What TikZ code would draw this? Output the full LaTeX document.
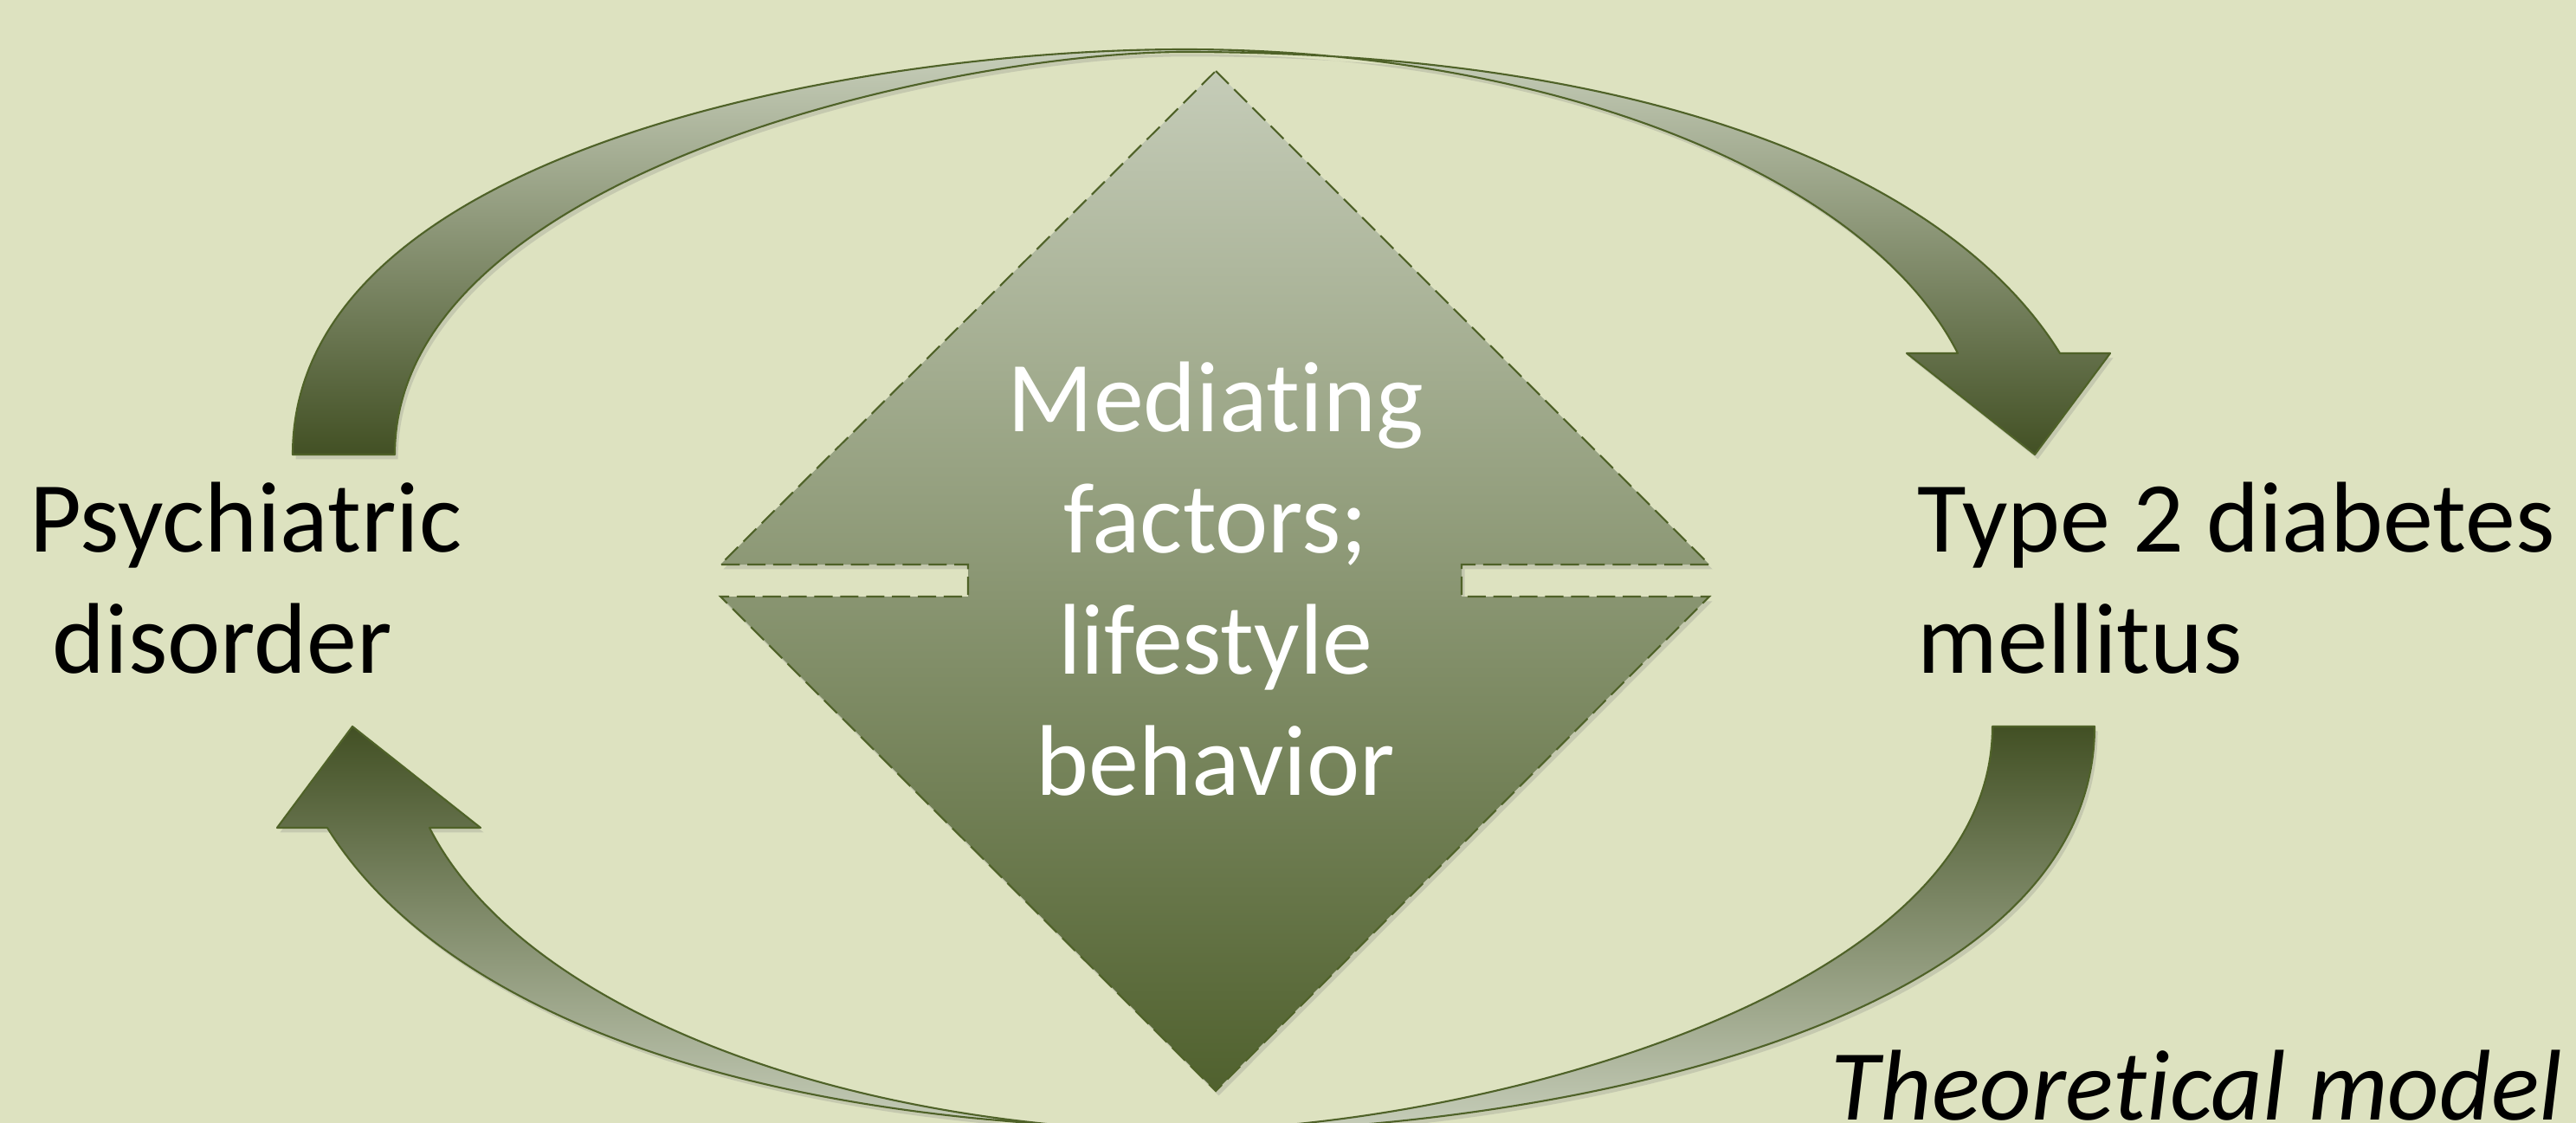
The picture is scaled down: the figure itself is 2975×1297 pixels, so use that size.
\documentclass[tikz,border=0pt]{standalone}
\usepackage{fontspec}
\setmainfont{Carlito}[Ligatures=NoCommon]
\usepackage{color}
\definecolor{mybg}{RGB}{221,226,192}
\definecolor{myolive}{RGB}{79,98,40}
\definecolor{mydark}{RGB}{66,80,36}
\definecolor{mylight}{RGB}{199,206,186}
\definecolor{mytop}{RGB}{197,204,184}
\definecolor{mybottom}{RGB}{80,97,46}
\usetikzlibrary{shadows,positioning}
\tikzstyle{bandarrow}=[draw=myolive,line width=0.6pt,line join=round,drop shadow={opacity=0.25,shadow xshift=1pt,shadow yshift=-1.5pt}]
\tikzstyle{mediator}=[draw=myolive,line width=0.6pt,dash pattern=on 6pt off 2.5pt,drop shadow={opacity=0.25,shadow xshift=1pt,shadow yshift=-1.5pt}]
\tikzstyle{labeltext}=[font=\fontsize{33}{39.8}\selectfont,inner sep=0pt]

\begin{document}
\begin{tikzpicture}[x=0.01cm,y=-0.01cm]
\fill[mybg] (0,0) rectangle (2975,1297);
\useasboundingbox (0,0) rectangle (2975,1297);
\clip (0,0) rectangle (2975,1297);
% mediating factors (up-down arrow)
\draw[mediator,top color=mytop,bottom color=mybottom] (1404,82) -- (1974,652) -- (1688,652) -- (1688,689) -- (1974,689) -- (1404,1260) -- (832,689) -- (1118,689) -- (1118,652) -- (832,652) -- cycle;
% upper curved arrow
\draw[bandarrow,top color=mylight,bottom color=mydark] (338,525) .. controls (338,170) and (1000,57) .. (1368,57) .. controls (1788,57) and (2156,201) .. (2261,408) -- (2202,408) -- (2350,525) -- (2437,408) -- (2379,408) .. controls (2250,200) and (1900,60) .. (1368,60) .. controls (1100,60) and (456,200) .. (456,525) -- cycle;
% lower curved arrow
\draw[bandarrow,top color=mydark,bottom color=mylight] (2419,839) .. controls (2419,1194) and (1757,1307) .. (1389,1307) .. controls (969,1307) and (601,1163) .. (496,956) -- (555,956) -- (407,839) -- (320,956) -- (378,956) .. controls (507,1164) and (857,1304) .. (1389,1304) .. controls (1657,1304) and (2301,1164) .. (2301,839) -- cycle;
% labels (base = last line)
\draw (34,777) node[labeltext,anchor=base west,align=left] (psych) {Psychiatric\\\hspace*{0.226em}disorder};
\draw (2214,777) node[labeltext,anchor=base west,align=left] (diabetes) {Type 2 diabetes\\mellitus};
\draw (1404,918) node[labeltext,anchor=base,align=center,text=white] (factors) {Mediating\\factors;\\lifestyle\\behavior};
\draw (2960,1293) node[labeltext,anchor=base east,font=\fontsize{33}{39.8}\selectfont\itshape] (model) {Theoretical model};
\end{tikzpicture}
\end{document}
